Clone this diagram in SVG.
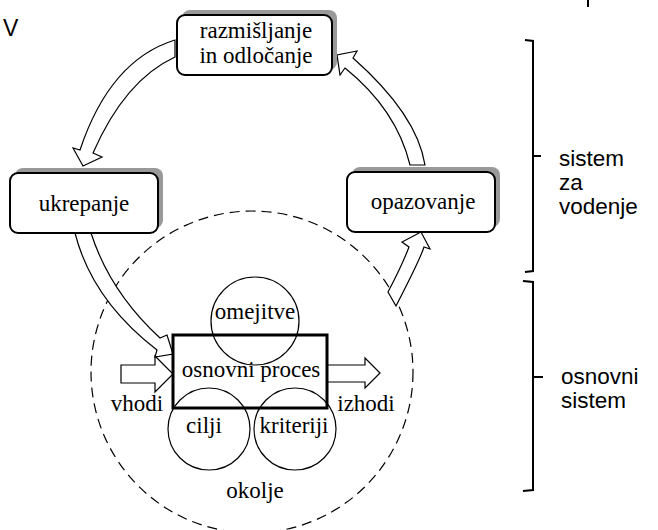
<svg xmlns="http://www.w3.org/2000/svg" width="658" height="530" viewBox="0 0 658 530">
<style>
.serif{font-family:"Liberation Serif","Times New Roman","DejaVu Serif",serif;font-size:23px;fill:#000}
.sans{font-family:"Liberation Sans",Arial,sans-serif;font-size:22.5px;fill:#000}
.box{fill:#fff;stroke:#000;stroke-width:2}
.shadow{fill:#999}
.barrow{fill:#fff;stroke:#000;stroke-width:1.2;stroke-linejoin:miter}
.circ{fill:none;stroke:#000;stroke-width:1.2}
.brk{fill:none;stroke:#000;stroke-width:2}
</style>
<rect width="658" height="530" fill="#fff"/>
<text class="sans" x="3" y="36" style="font-size:23px">V</text>
<line x1="588" y1="0" x2="588" y2="7" stroke="#000" stroke-width="2"/>
<g id="okolje-circle">
<circle cx="252" cy="372" r="161" fill="none" stroke="#000" stroke-width="1.2" stroke-dasharray="10,6"/>
</g>
<g id="connectors">
<path class="barrow" d="M175,40 Q110,60 80,150 L73,148 L83,166 L102,157 L93,153 Q125,80 175,57 Z"/>
<path class="barrow" d="M410,165 Q396.5,109.5 345,68 L340,75 L337,55 L357,51 L353,58 Q417,114.5 425,165 Z"/>
<path class="barrow" d="M75,233 Q92,300 157,350 L155,357 L173,354 L167,335 L160,338 Q110,292 91,233 Z"/>
<path class="barrow" d="M388,292 Q401.5,266.5 409,247 L402,242 L421,232 L430,249 L424,247 Q420,259.5 396,306 Z"/>
<path class="barrow" d="M121,365 L155,365 L155,356 L173,374 L155,392 L155,383 L121,383 Z"/>
<path class="barrow" d="M327,365 L365,365 L365,358 L380,373 L365,388 L365,382 L327,382 Z"/>
</g>
<g id="razmisljanje">
<rect class="shadow" x="182" y="10" width="155" height="60" rx="8"/>
<rect class="box" x="177" y="15" width="155" height="60" rx="8"/>
<text class="serif" x="256" y="38" text-anchor="middle">razmišljanje</text>
<text class="serif" x="256" y="63" text-anchor="middle">in odločanje</text>
</g>
<g id="ukrepanje">
<rect class="shadow" x="15" y="168" width="148" height="60" rx="8"/>
<rect class="box" x="10" y="173" width="148" height="60" rx="8"/>
<text class="serif" x="84" y="211" text-anchor="middle">ukrepanje</text>
</g>
<g id="opazovanje">
<rect class="shadow" x="352" y="167" width="148" height="60" rx="8"/>
<rect class="box" x="347" y="172" width="148" height="60" rx="8"/>
<text class="serif" x="423" y="209" text-anchor="middle">opazovanje</text>
</g>
<g id="osnovni-proces">
<rect x="173" y="335" width="154" height="73" fill="#fff" stroke="#000" stroke-width="3"/>
<text class="serif" x="251" y="377" text-anchor="middle">osnovni proces</text>
</g>
<g id="omejitve">
<circle class="circ" cx="255" cy="321" r="44"/>
<text class="serif" x="255" y="319" text-anchor="middle">omejitve</text>
</g>
<g id="cilji">
<circle class="circ" cx="209" cy="429" r="41"/>
<text class="serif" x="204" y="433" text-anchor="middle">cilji</text>
</g>
<g id="kriteriji">
<circle class="circ" cx="295" cy="429" r="41"/>
<text class="serif" x="294" y="433" text-anchor="middle">kriteriji</text>
</g>
<text class="serif" x="137" y="411" text-anchor="middle">vhodi</text>
<text class="serif" x="366" y="411" text-anchor="middle">izhodi</text>
<text class="serif" x="255" y="498" text-anchor="middle">okolje</text>
<g id="bracket-vodenje">
<path class="brk" d="M525,40 L533,41 L533,271 L525,272 M533,156 L541,156"/>
<text class="sans" x="559" y="166">sistem</text>
<text class="sans" x="559" y="190">za</text>
<text class="sans" x="559" y="214">vodenje</text>
</g>
<g id="bracket-osnovni">
<path class="brk" d="M523,281 L533,282 L533,490 L523,491 M533,377 L543,377"/>
<text class="sans" x="561" y="384">osnovni</text>
<text class="sans" x="561" y="408">sistem</text>
</g>
</svg>
